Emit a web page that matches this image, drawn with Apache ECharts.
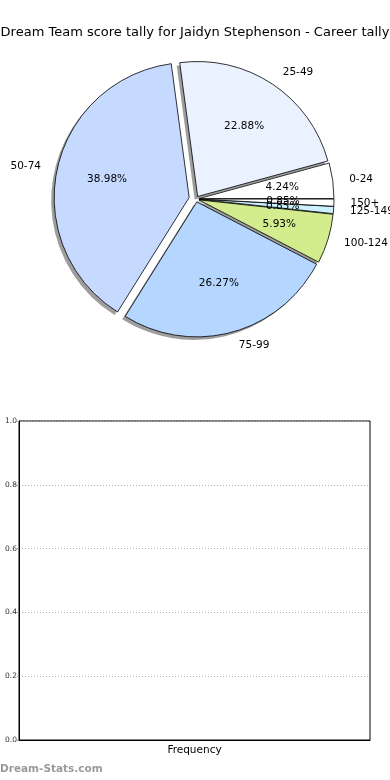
<!DOCTYPE html>
<html>
<head>
<meta charset="utf-8">
<script src="https://cdn.jsdelivr.net/npm/echarts@6/dist/echarts.min.js"></script>
<style>
html,body{margin:0;padding:0;background:#fff;}
#chart{width:390px;height:780px;}
</style>
</head>
<body>
<div id="chart"></div>
<script>
// ---- data ----
const titleText = 'Dream Team score tally for Jaidyn Stephenson - Career tally';
const categories = ['0-24', '25-49', '50-74', '75-99', '100-124', '125-149', '150+'];
const percents = [4.24, 22.88, 38.98, 26.27, 5.93, 0.85, 0.85];
const sliceColors = ['#ffffff', '#eaf2ff', '#c6d9ff', '#b5d6ff', '#d2ec8e', '#ccf2ff', '#ffffff'];
const bigExplode = ['50-74'];
const barCategories = ['Frequency'];
const barValues = [];
const yTicks = [0, 0.2, 0.4, 0.6, 0.8, 1.0];

// ---- layout/style ----
const FONT = 'DejaVu Sans';
const CX = 196, CY = 199, R = 135;
const SMALL_OFF = 3, BIG_OFF = 7;
const SHADOW_DX = -3, SHADOW_DY = 3;

function pieSeries(kind, big) {
  const isShadow = kind === 'shadow';
  const center = isShadow ? [CX + SHADOW_DX, CY + SHADOW_DY] : [CX, CY];
  const radius = kind === 'pct' ? [R * 0.2, R] : [0, R];
  const data = categories.map((c, i) => {
    const inGroup = bigExplode.includes(c) === big;
    let color = 'transparent', bw = 0;
    if (inGroup) {
      if (kind === 'main') { color = sliceColors[i]; bw = 0.8; }
      else if (kind === 'shadow') { color = 'rgba(60,60,60,0.5)'; }
    }
    const style = { color: color, borderColor: '#000', borderWidth: bw };
    return {
      name: c,
      value: percents[i],
      selected: true,
      itemStyle: style,
      select: { itemStyle: style },
      label: { show: inGroup && kind !== 'shadow' }
    };
  });
  const s = {
    type: 'pie',
    silent: true,
    animation: false,
    center: center,
    radius: radius,
    startAngle: 0,
    clockwise: false,
    minAngle: 0,
    minShowLabelAngle: 0,
    avoidLabelOverlap: false,
    labelLayout: { hideOverlap: false },
    selectedMode: 'multiple',
    selectedOffset: big ? BIG_OFF : SMALL_OFF,
    emphasis: { disabled: true, scale: false },
    z: isShadow ? 1 : (kind === 'main' ? 2 : 3),
    data: data,
    labelLine: { show: false, length: R * 0.1, length2: 3 }
  };
  if (kind === 'pct') {
    s.label = {
      position: 'inside',
      formatter: p => p.value.toFixed(2) + '%',
      fontFamily: FONT, fontSize: 10.5, color: '#000'
    };
  } else {
    s.label = {
      position: 'outside',
      formatter: p => p.name,
      fontFamily: FONT, fontSize: 10.5, color: '#000',
      distanceToLabelLine: 0
    };
  }
  return s;
}

const chart = echarts.init(document.getElementById('chart'), null, { renderer: 'canvas' });
const option = {
  backgroundColor: '#fff',
  animation: false,
  title: {
    text: titleText,
    left: 'center',
    top: 21,
    textStyle: { fontFamily: FONT, fontSize: 13, fontWeight: 'normal', color: '#000' }
  },
  grid: {
    left: 19, right: 20, top: 421, bottom: 40,
    show: true, borderColor: '#000', borderWidth: 1,
    outerBoundsMode: 'none'
  },
  xAxis: {
    type: 'category',
    data: barCategories,
    axisLine: { show: true, lineStyle: { color: '#000', width: 1 } },
    axisTick: { show: false },
    axisLabel: { fontFamily: FONT, fontSize: 10.5, color: '#000', margin: 5 },
    splitLine: { show: false }
  },
  yAxis: {
    type: 'value',
    min: yTicks[0],
    max: yTicks[yTicks.length - 1],
    interval: yTicks[1] - yTicks[0],
    axisLine: { show: true, lineStyle: { color: '#000', width: 1 } },
    axisTick: { show: true, inside: false, length: 2, lineStyle: { color: '#999' } },
    axisLabel: { fontFamily: FONT, fontSize: 7.5, color: '#333', margin: 2, formatter: v => v.toFixed(1) },
    splitLine: { show: true, lineStyle: { color: '#b0b0b0', type: [1, 2], width: 1 } }
  },
  graphic: [{
    type: 'text',
    left: 0,
    top: 764,
    style: { text: 'Dream-Stats.com', fill: '#9a9a9a', font: 'bold 10.5px "DejaVu Sans"' }
  }],
  series: [
    pieSeries('shadow', false),
    pieSeries('shadow', true),
    pieSeries('main', false),
    pieSeries('main', true),
    pieSeries('pct', false),
    pieSeries('pct', true),
    { type: 'bar', data: barValues, silent: true }
  ]
};
chart.setOption(option);
</script>
</body>
</html>
